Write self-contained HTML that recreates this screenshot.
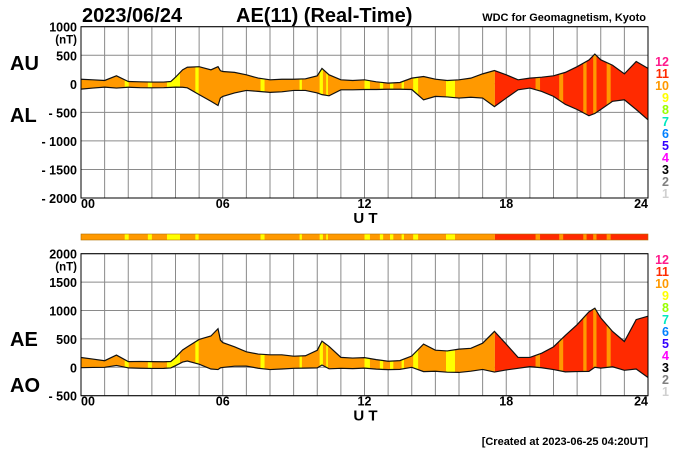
<!DOCTYPE html>
<html><head><meta charset="utf-8"><style>
body{margin:0;background:#fff;}
svg text{font-family:"Liberation Sans",Arial,sans-serif;font-weight:bold;}
</style></head><body>
<svg id="c" width="700" height="450" viewBox="0 0 700 450" xmlns="http://www.w3.org/2000/svg"></svg>
<script>
const hours=[0,0.5,1,1.5,2,2.5,3,3.5,3.8,4,4.3,4.5,5,5.5,5.8,5.9,6,6.5,7,7.5,8,8.5,9,9.5,10,10.2,10.5,11,11.5,12,12.5,13,13.5,14,14.5,15,15.5,16,16.5,17,17.5,18,18.5,19,19.5,20,20.5,21,21.5,21.75,22,22.5,23,23.5,24];
const auValues=[80,70,58,140,40,35,30,30,40,115,245,290,300,245,300,230,215,200,157,100,70,80,80,87,140,270,157,70,58,70,35,12,23,99,128,81,58,70,99,174,232,157,70,99,116,140,200,300,416,520,420,325,174,390,270];
const alValues=[-93,-75,-58,-75,-60,-68,-70,-68,-62,-58,-60,-70,-190,-306,-380,-250,-220,-160,-116,-133,-150,-140,-116,-116,-160,-190,-210,-105,-105,-100,-100,-95,-95,-100,-280,-220,-230,-250,-235,-250,-400,-250,-105,-75,-133,-220,-360,-450,-560,-520,-450,-306,-280,-450,-630];
// station-count segments: [start hour, end hour, count]
const segStart=[0,1.85,2.83,3.64,4.84,7.6,9.25,10.1,10.38,12.0,12.65,13.08,13.57,14.06,15.45,17.52,19.24,20.24,21.26,21.68,22.25];
const segEnd=[17.52,2.02,3.0,4.19,4.98,7.77,9.35,10.24,10.45,12.23,12.79,13.22,13.67,14.27,15.83,24,19.43,20.41,21.4,21.82,22.42];
const segCount=[10,9,9,9,9,9,9,9,9,9,9,9,9,9,9,11,10,10,10,10,10];
const topTicks=[1000,500,0,-500,-1000,-1500,-2000];
const botTicks=[2000,1500,1000,500,0,-500];
const xTicks=[0,6,12,18,24];
const legendCounts=[12,11,10,9,8,7,6,5,4,3,2,1];
const legendColors=["#ff1a8c","#ff2a00","#ff9900","#ffff00","#99ff00","#00e8c0","#0080ff","#3300ff","#ff00ff","#000000","#808080","#d0d0d0"];
const countColor={9:"#ffff00",10:"#ff9900",11:"#ff2a00"};

const NS="http://www.w3.org/2000/svg";
const svg=document.getElementById('c');
function mk(tag,attrs,parent){const e=document.createElementNS(NS,tag);for(const k in attrs)e.setAttribute(k,attrs[k]);(parent||svg).appendChild(e);return e;}
const X0=81,X1=648;
const x=h=>X0+(X1-X0)*h/24;
function txt(s,xx,yy,size,anchor,fill,name){const t=mk('text',{x:xx,y:yy,'font-size':size,'text-anchor':anchor||'start',fill:fill||'#000'});t.textContent=s;return t;}

const aeValues=auValues.map((v,i)=>v-alValues[i]);
const aoValues=auValues.map((v,i)=>(v+alValues[i])/2);

function panel(id,yTop,yBot,vMax,vMin,ticks,upper,lower,ub,lb){
  const y=v=>yTop+(vMax-v)*(yBot-yTop)/(vMax-vMin);
  const g=mk('g',{});
  
  
  for(let h=0;h<=24;h++){const l=mk('line',{x1:x(h),x2:x(h),y1:yTop,y2:yBot,stroke:'#8a8a8a','stroke-width':1},g);}
  ticks.forEach(t=>{const l=mk('line',{x1:X0,x2:X1,y1:y(t),y2:y(t),stroke:'#8a8a8a','stroke-width':1},g);
    txt(t<0?'- '+(-t):String(t),77,y(t)+5,12.5,'end','#000','y-tick-label');});
  txt('(nT)',77,y(ticks[0])+17,11.5,'end','#000','y-unit-label');
  const cid='clip-'+id;
  const cp=mk('clipPath',{id:cid},g);
  let pts=hours.map((h,i)=>x(h)+','+y(upper[i]));
  pts=pts.concat(hours.slice().reverse().map((h,j)=>x(h)+','+y(lower[hours.length-1-j])));
  mk('polygon',{points:pts.join(' ')},cp);
  const band=mk('g',{'clip-path':'url(#'+cid+')'},g);
  
  
  segStart.forEach((s,i)=>{const r=mk('rect',{x:x(s),y:yTop,width:x(segEnd[i])-x(s),height:yBot-yTop,fill:countColor[segCount[i]]},band);});
  const l1=mk('polyline',{points:hours.map((h,i)=>x(h)+','+y(upper[i])).join(' '),fill:'none',stroke:'#111','stroke-width':1.2},g);
  
  const l2=mk('polyline',{points:hours.map((h,i)=>x(h)+','+y(lower[i])).join(' '),fill:'none',stroke:'#111','stroke-width':1.2},g);
  
  const b=mk('rect',{x:X0,y:yTop,width:X1-X0,height:yBot-yTop,fill:'none',stroke:'#000','stroke-width':1},g);
  
  xTicks.forEach(h=>txt(String(h).padStart(2,'0'),x(h),yBot+10,12.5,h==0?'start':(h==24?'end':'middle'),'#000','x-tick-label'));
  txt('U T',x(12)+1,yBot+25,15,'middle','#000','x-axis-title');
}
panel('top',26.7,198,1000,-2000,topTicks,auValues,alValues,'au','al');
panel('bottom',253.7,395.7,2000,-500,botTicks,aeValues,aoValues,'ae','ao');

const strip=mk('g',{});


segStart.forEach((s,i)=>{const r=mk('rect',{x:x(s),y:234,width:x(segEnd[i])-x(s),height:6,fill:countColor[segCount[i]]},strip);});
mk('rect',{x:X0,y:234,width:X1-X0,height:6,fill:'none',stroke:'#b07000','stroke-width':0.6},strip);

legendCounts.forEach((c,i)=>{txt(String(c),669,66+i*12,12.5,'end',legendColors[i],'legend-count-top');txt(String(c),669,264+i*12,12.5,'end',legendColors[i],'legend-count-bottom');});

txt('2023/06/24',82,22,20,'start','#000','date-title');
txt('AE(11) (Real-Time)',236,22,20,'start','#000','chart-title');
txt('WDC for Geomagnetism, Kyoto',646,21,11,'end','#000','source-label');
txt('AU',10,70,20,'start','#000','au-label');
txt('AL',10,122,20,'start','#000','al-label');
txt('AE',10,346,20,'start','#000','ae-label');
txt('AO',10,392,20,'start','#000','ao-label');
txt('[Created at 2023-06-25 04:20UT]',648,445,11,'end','#000','created-label');
</script>
</body></html>
